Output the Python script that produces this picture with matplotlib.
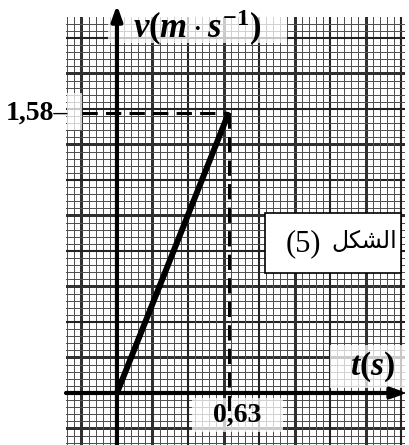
import matplotlib
matplotlib.use('Agg')
import matplotlib.pyplot as plt
from matplotlib.patches import Rectangle

plt.rcParams['mathtext.fontset'] = 'custom'
plt.rcParams['mathtext.it'] = 'Liberation Serif:italic:bold'
plt.rcParams['mathtext.rm'] = 'Liberation Serif:bold'
plt.rcParams['mathtext.bf'] = 'Liberation Serif:bold'

# v(t) straight line from origin to the read point
t_vals = [0.0, 0.63]
v_vals = [0.0, 1.58]
t_label = '0,63'
v_label = '1,58'
y_title = r'$v(m\cdot s^{-1})$'
x_title = r'$t(s)$'
# "الشكل (5)": the word is written in visual order with Arabic
# presentation forms, since matplotlib does no Arabic shaping
fig_word = '\uFEDE\uFEDC\uFEB8\uFEDF\uFE8D'
fig_num = '(5)'

# graph paper: 1 big square = 0.4 on both axes, 10 small squares
small = 0.04
xlim = (-0.287, 1.622)
ylim = (-0.293, 2.118)

fig = plt.figure(figsize=(4.09, 4.45), dpi=100)
ax = fig.add_axes([66/409, 0, 339/409, 428/445])
ax.set_xlim(*xlim)
ax.set_ylim(*ylim)
for s in ax.spines.values():
    s.set_visible(False)
ax.set_xticks([])
ax.set_yticks([])


def grid_style(k):
    if k % 10 == 0:
        return dict(color='#222222', lw=1.5)
    if k % 5 == 0:
        return dict(color='#303030', lw=1.0, antialiased=False)
    return dict(color='#505050', lw=0.72, antialiased=False)


for k in range(-10, 60):
    x = k * small
    if xlim[0] <= x <= xlim[1]:
        ax.axvline(x, zorder=1, **grid_style(k))
    y = k * small
    if ylim[0] <= y <= ylim[1]:
        ax.axhline(y, zorder=1, **grid_style(k))

# semi-transparent label patches on the paper
def patch(x0, x1, y0, y1, **kw):
    opts = dict(fc='white', ec='none', alpha=0.75, zorder=3, clip_on=False)
    opts.update(kw)
    ax.add_patch(Rectangle((x0, y0), x1 - x0, y1 - y0, **opts))

patch(-0.051, 0.958, 1.972, 2.13)
patch(1.200, 1.623, 0.028, 0.270)
patch(0.423, 0.935, -0.220, -0.028)
patch(-0.282, -0.197, 1.482, 1.690)

# axes with arrows
arrow = dict(arrowstyle='-|>,head_length=0.9,head_width=0.32',
             color='black', lw=3, shrinkA=0, shrinkB=0)
ax.annotate('', xy=(xlim[1] + 0.012, 0), xytext=(xlim[0], 0),
            annotation_clip=False, arrowprops=arrow, zorder=6)
ax.annotate('', xy=(0, 2.186), xytext=(0, ylim[0]),
            annotation_clip=False, arrowprops=arrow, zorder=6)

# dashed guides
ax.plot([-0.197, t_vals[1]], [v_vals[1], v_vals[1]], color='black',
        lw=2.2, dashes=(5, 2.7), zorder=4)
ax.plot([t_vals[1], t_vals[1]], [v_vals[1], -0.135], color='black',
        lw=2.2, dashes=(5, 2.7), zorder=4)

# the line
ax.plot(t_vals, v_vals, color='black', lw=4.3, solid_capstyle='butt', zorder=5)

# labels
ax.text(0.45, 2.056, y_title, fontsize=25, ha='center', va='center', zorder=7)
ax.text(1.44, 0.146, x_title, fontsize=24, ha='center', va='center', zorder=7)
ax.text(0.676, -0.124, t_label, fontsize=20, ha='center', va='center',
        family='Liberation Serif', weight='bold', zorder=7)
fig.text(6/409, 1 - 113/445, v_label + '\u2013', fontsize=20,
         ha='left', va='center', family='Liberation Serif', weight='bold')
patch(0.834, 1.600, 0.676, 1.014, alpha=1, ec='black', lw=1.2, zorder=7)
ax.text(0.95, 0.84, fig_num, fontsize=22, ha='left', va='center',
        family='Liberation Serif', zorder=8)
ax.text(1.575, 0.855, fig_word, fontsize=17, ha='right', va='center',
        family='DejaVu Sans', zorder=8)

fig.savefig('out.png', dpi=100)
